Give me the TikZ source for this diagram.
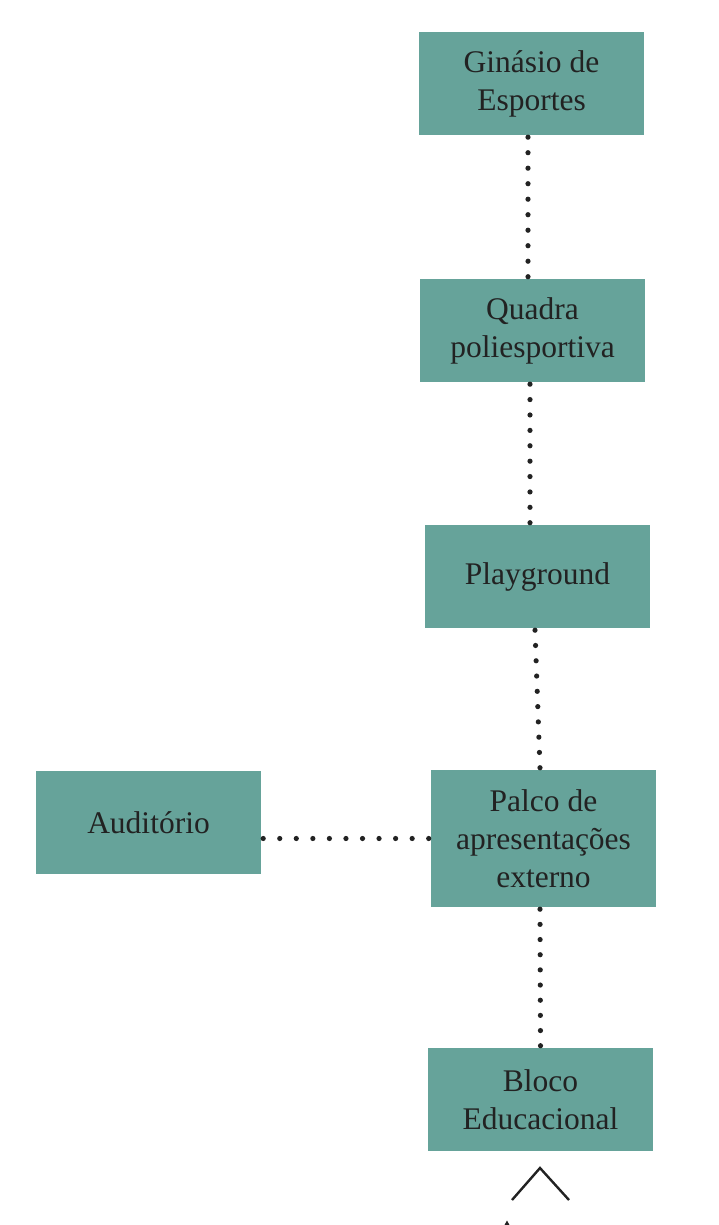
\documentclass[tikz,border=0pt]{standalone}
\usepackage{fontspec}
\setmainfont{Liberation Serif}
\usetikzlibrary{decorations.markings}
\definecolor{boxteal}{RGB}{102,163,154}
\definecolor{ink}{RGB}{34,34,34}
\begin{document}
\begin{tikzpicture}[x=1pt,y=-1pt,
  place/.style={fill=boxteal, minimum width=225pt, minimum height=103pt, inner sep=0pt,
    align=center, text=ink, font=\fontsize{31.5}{38}\selectfont},
  dotline/.style={draw=none, postaction={decorate, decoration={markings,
    mark=between positions 0 and 1 step #1 with {\fill[ink] (0,0) circle (2.6pt);}}}}]
\useasboundingbox (0,0) rectangle (719,1225);
\node[place] (gin) at (531.5,83.5) {Ginásio de\\Esportes};
\node[place] (qua) at (532.5,330.5) {Quadra\\poliesportiva};
\node[place] (pla) at (537.5,576.5) {Playground};
\node[place, minimum height=137pt] (pal) at (543.5,838.5) {Palco de\\apresentações\\externo};
\node[place] (aud) at (148.5,822.5) {Auditório};
\node[place] (blo) at (540.5,1099.5) {Bloco\\Educacional};
\path[dotline=0.11105] ([xshift=-3.5pt,yshift=-2pt]gin.south) -- ([xshift=-4.5pt,yshift=2pt]qua.north);
\path[dotline=0.11105] ([xshift=-2.5pt,yshift=-2pt]qua.south) -- ([xshift=-7.5pt,yshift=2pt]pla.north);
\path[dotline=0.11105] ([xshift=-2.5pt,yshift=-2pt]pla.south) -- ([xshift=-3.5pt,yshift=2pt]pal.north);
\path[dotline=0.11105] ([xshift=-3.5pt,yshift=-2pt]pal.south) -- ([xshift=0pt,yshift=2pt]blo.north);
\path[dotline=0.09995] ([xshift=2pt]aud.east |- pal.west) -- ([xshift=-2pt]pal.west);
\coordinate (chl) at (512,1200);
\coordinate (cht) at (540,1168);
\coordinate (chr) at (569,1200);
\draw[ink, line width=2.4pt] (chl) -- (cht) -- (chr);
\fill[ink] (504.5,1225) -- (507,1220.5) -- (509.5,1225) -- cycle;
\end{tikzpicture}
\end{document}
